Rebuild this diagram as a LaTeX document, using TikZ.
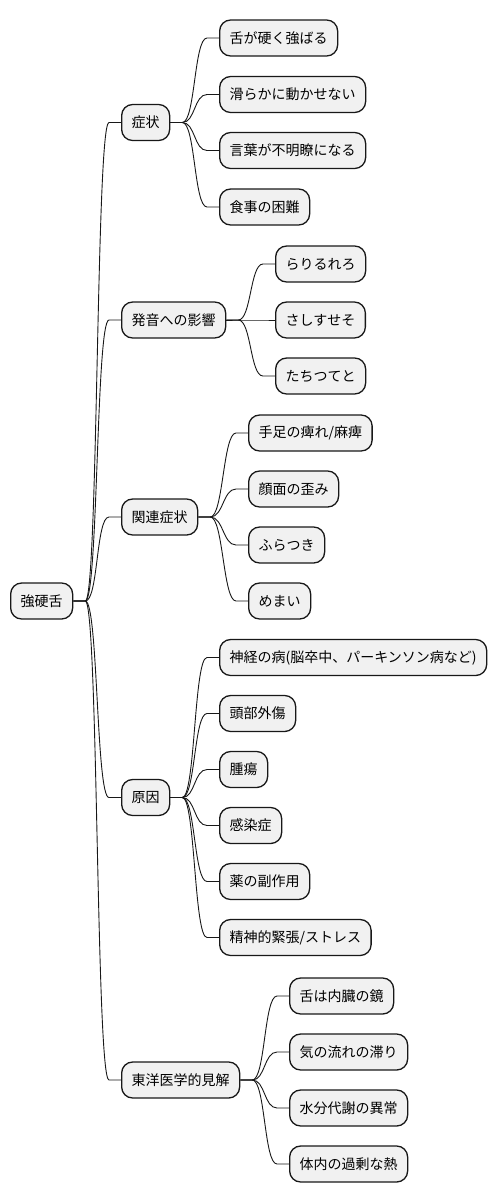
\documentclass[tikz,border=0pt]{standalone}
\usepackage{fontspec}
\setmainfont{Noto Sans CJK JP}
\definecolor{lineC}{HTML}{181818}
\definecolor{boxC}{HTML}{F1F1F1}
\newcommand{\mmlink}[2]{\draw[link] (#1.east) -- ++(12,0) .. controls +(13,0) and +(-13,0) .. ([xshift=-12pt]#2.west) -- (#2.west);}
\begin{document}
\begin{tikzpicture}[x=1pt,y=-1pt,
  box/.style={draw=lineC,fill=boxC,line width=1.3pt,rounded corners=11pt,minimum height=36pt,inner xsep=10pt,inner ysep=0pt,anchor=west,font=\fontsize{14}{16}\selectfont},
  link/.style={draw=lineC,line width=0.9pt}]
\useasboundingbox (0,0) rectangle (499,1203);
% root
\node[box] (root) at (10,601) {強硬舌};
% level 1
\node[box] (s) at (121,122.5) {症状};
\node[box] (h) at (121,320) {発音への影響};
\node[box] (k) at (121,517) {関連症状};
\node[box] (g) at (121,797.5) {原因};
\node[box] (t) at (121,1080) {東洋医学的見解};
% level 2: 症状
\node[box] (s1) at (219,38) {舌が硬く強ばる};
\node[box] (s2) at (219,94.5) {滑らかに動かせない};
\node[box] (s3) at (219,150.5) {言葉が不明瞭になる};
\node[box] (s4) at (219,207) {食事の困難};
% 発音への影響
\node[box] (h1) at (275,264) {らりるれろ};
\node[box] (h2) at (275,320) {さしすせそ};
\node[box] (h3) at (275,376) {たちつてと};
% 関連症状
\node[box] (k1) at (248,433) {手足の痺れ/麻痺};
\node[box] (k2) at (248,489) {顔面の歪み};
\node[box] (k3) at (248,545) {ふらつき};
\node[box] (k4) at (248,601) {めまい};
% 原因
\node[box] (g1) at (219,657.5) {神経の病(脳卒中、パーキンソン病など)};
\node[box] (g2) at (219,713.5) {頭部外傷};
\node[box] (g3) at (219,769.5) {腫瘍};
\node[box] (g4) at (219,825.5) {感染症};
\node[box] (g5) at (219,881.5) {薬の副作用};
\node[box] (g6) at (219,937.5) {精神的緊張/ストレス};
% 東洋医学的見解
\node[box] (t1) at (289,996) {舌は内臓の鏡};
\node[box] (t2) at (289,1052) {気の流れの滞り};
\node[box] (t3) at (289,1108) {水分代謝の異常};
\node[box] (t4) at (289,1164) {体内の過剰な熱};
% links
\foreach \c in {s,h,k,g,t} {\mmlink{root}{\c}}
\foreach \c in {s1,s2,s3,s4} {\mmlink{s}{\c}}
\foreach \c in {h1,h2,h3} {\mmlink{h}{\c}}
\foreach \c in {k1,k2,k3,k4} {\mmlink{k}{\c}}
\foreach \c in {g1,g2,g3,g4,g5,g6} {\mmlink{g}{\c}}
\foreach \c in {t1,t2,t3,t4} {\mmlink{t}{\c}}
\end{tikzpicture}
\end{document}
